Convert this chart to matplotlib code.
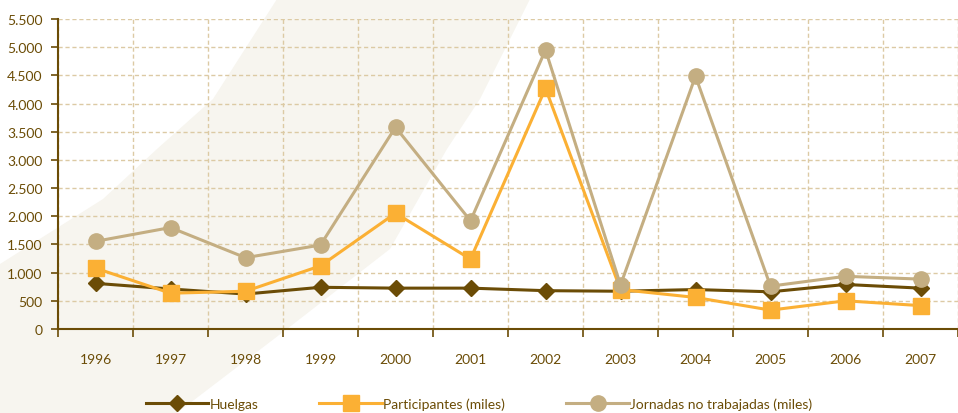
import matplotlib
matplotlib.use("Agg")
import matplotlib.pyplot as plt
from matplotlib.patches import Polygon
from matplotlib.ticker import FuncFormatter

years = ["1996", "1997", "1998", "1999", "2000", "2001",
         "2002", "2003", "2004", "2005", "2006", "2007"]
huelgas = [810, 710, 620, 740, 725, 725, 680, 670, 700, 660, 790, 725]
participantes = [1080, 635, 670, 1120, 2055, 1240, 4270, 700, 560, 335, 500, 415]
jornadas = [1555, 1800, 1265, 1490, 3580, 1920, 4950, 780, 4485, 760, 935, 885]

brown = "#6b4c06"
orange = "#fbb034"
tan = "#c4ae82"
grid_c = "#dccaa4"

plt.rcParams["font.family"] = ["Lato", "DejaVu Sans"]

fig = plt.figure(figsize=(9.58, 4.14), dpi=100)
fig.patch.set_facecolor("white")

# decorative beige swoosh in the background (figure pixel coords, y from top)
W, H = 958, 414
band = [(277, 0), (530, 0), (480, 100), (447, 150), (390, 250), (287, 330),
        (177, 414), (0, 414), (0, 265), (103, 200), (157, 150), (213, 100)]
bg = Polygon([(x / W, 1 - y / H) for x, y in band], closed=True,
             transform=fig.transFigure, facecolor="#f7f5ef", edgecolor="none",
             zorder=-5)
fig.patches.append(bg)

ax = fig.add_axes([58 / W, 1 - 330 / H, 1 - 58 / W, 310 / H])
ax.set_zorder(2)
ax.set_facecolor("none")

x = list(range(len(years)))
ax.plot(x, huelgas, color=brown, lw=2.2, marker="D", ms=8.5, label="Huelgas", zorder=3)
ax.plot(x, participantes, color=orange, lw=2.2, marker="s", ms=11,
        label="Participantes (miles)", zorder=4)
ax.plot(x, jornadas, color=tan, lw=2.2, marker="o", ms=11,
        label="Jornadas no trabajadas (miles)", zorder=5)

ax.set_xlim(-0.5, (958 - 96) / 75.7)
ax.set_ylim(0, 5500)
ax.set_yticks(range(0, 5501, 500))
ax.yaxis.set_major_formatter(FuncFormatter(lambda v, p: f"{int(v):,}".replace(",", ".")))

ax.set_xticks([i - 0.5 for i in range(len(years) + 1)])
ax.set_xticklabels([])
ax.set_xticks(x, minor=True)
ax.set_xticklabels(years, minor=True)
ax.tick_params(axis="x", which="major", length=6, width=1.2, color=brown, direction="out")
ax.tick_params(axis="x", which="minor", length=0, pad=17, labelsize=10, labelcolor=brown)
ax.tick_params(axis="y", length=5, width=1.2, color=brown, labelsize=10,
               labelcolor=brown, pad=6)

ax.grid(True, which="major", color=grid_c, linestyle=(0, (3, 2)), linewidth=1)
ax.set_axisbelow(True)

for s in ["top", "right"]:
    ax.spines[s].set_visible(False)
for s in ["left", "bottom"]:
    ax.spines[s].set_color(brown)
    ax.spines[s].set_linewidth(1.5)

leg = fig.legend(loc="center", bbox_to_anchor=(0.5, 1 - 405 / H), ncol=3, frameon=False,
                 handlelength=4.5, handletextpad=0.1, columnspacing=4.4, fontsize=10)
for t in leg.get_texts():
    t.set_color(brown)

fig.savefig("out.png", dpi=100)
